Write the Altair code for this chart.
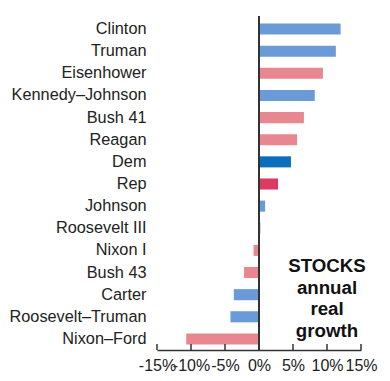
import altair as alt
import pandas as pd

presidents = ["Clinton", "Truman", "Eisenhower", "Kennedy–Johnson", "Bush 41",
              "Reagan", "Dem", "Rep", "Johnson", "Roosevelt III", "Nixon I",
              "Bush 43", "Carter", "Roosevelt–Truman", "Nixon–Ford"]
growth = [12.0, 11.3, 9.4, 8.2, 6.6, 5.6, 4.7, 2.8, 0.9, 0.2, -0.8, -2.2, -3.7, -4.2, -10.7]
groups = ["D", "D", "R", "D", "R", "R", "Dem avg", "Rep avg", "D", "D", "R", "R", "D", "D", "R"]
group_names = ["D", "R", "Dem avg", "Rep avg"]
group_colors = ["#6A9BD6", "#E8878F", "#0A6EBD", "#DC3A63"]
tick_values = [-15, -10, -5, 0, 5, 10, 15]
note_lines = ["STOCKS", "annual", "real", "growth"]

W, H = 204, 332
FONT = "Liberation Sans"

df = pd.DataFrame({"president": presidents, "growth": growth, "group": groups})
xscale = alt.Scale(domain=[-15, 15], nice=False)
xaxis = alt.Axis(title=None, values=tick_values, format=".0f",
                 labelExpr="datum.value + '%'", labelOverlap=False,
                 labelFlush=False, labelBound=False,
                 labelFontSize=16, labelFont=FONT, labelColor="#222",
                 ticks=False, labelPadding=7, domainColor="#333",
                 domainWidth=1.5, grid=False)

bars = alt.Chart(df).mark_bar().encode(
    y=alt.Y("president:N", sort=presidents,
            scale=alt.Scale(paddingInner=0.5, paddingOuter=0.25),
            axis=alt.Axis(title=None, domain=False, ticks=False, labelPadding=11,
                          labelFontSize=16.3, labelFont=FONT, labelColor="#222",
                          labelLimit=300)),
    x=alt.X("growth:Q", scale=xscale, axis=xaxis),
    color=alt.Color("group:N", scale=alt.Scale(domain=group_names, range=group_colors),
                    legend=None),
)

ticks = alt.Chart(pd.DataFrame({"t": tick_values})).mark_rule(
    color="#333", strokeWidth=1.5).encode(
    x=alt.X("t:Q", scale=xscale, axis=xaxis),
    y=alt.value(H - 6), y2=alt.value(H))

zero = alt.Chart(pd.DataFrame({"z": [0]})).mark_rule(
    color="#333", strokeWidth=2).encode(
    x=alt.X("z:Q", scale=xscale, axis=xaxis), y=alt.value(-2), y2=alt.value(H))

note = alt.Chart(pd.DataFrame({"x": [10]})).mark_text(
    text=note_lines, font=FONT, fontSize=18.7, fontWeight="bold", color="#111",
    lineHeight=21.7, align="center", baseline="middle").encode(
    x=alt.X("x:Q", scale=xscale, axis=xaxis), y=alt.value(248))

chart = alt.layer(bars, zero, ticks, note).properties(
    width=W, height=H,
    autosize=alt.AutoSizeParams(type="none"),
    padding={"left": 149, "top": 10, "right": 18, "bottom": 22},
).configure_view(stroke=None)

chart.save("out.html", embed_options={"renderer": "svg", "actions": False})
